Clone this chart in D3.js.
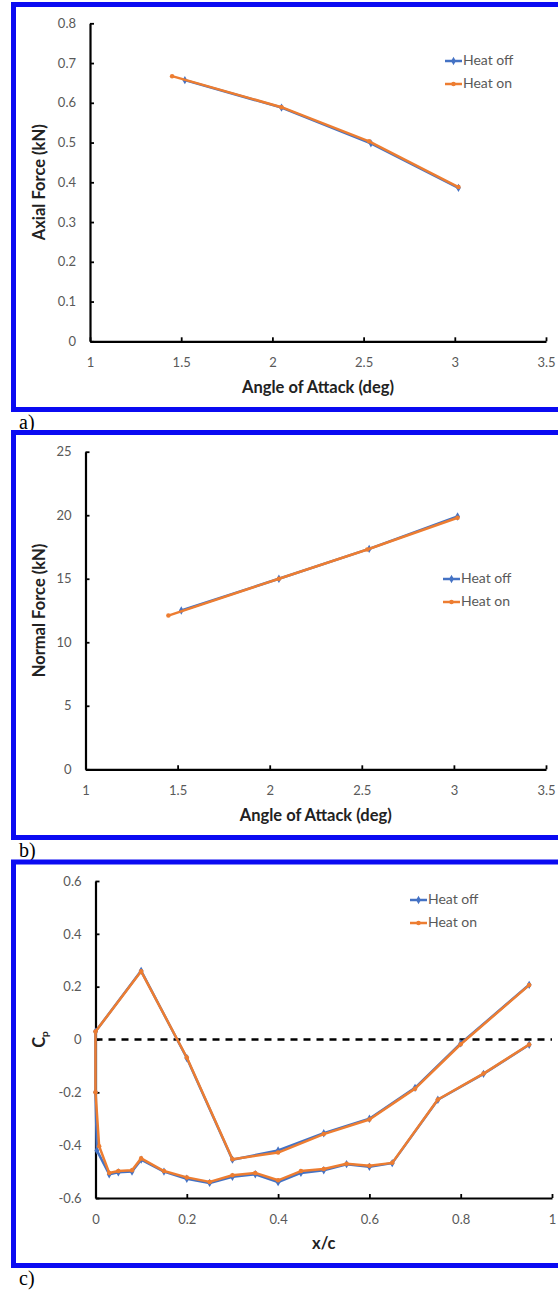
<!DOCTYPE html>
<html>
<head>
<meta charset="utf-8">
<script src="https://cdn.jsdelivr.net/npm/d3@7"></script>
<style>
  body { margin: 0; background: #fff; }
  svg { display: block; }
</style>
</head>
<body>
<div id="chart"></div>
<script>
// a) axial force vs angle of attack
const aoaOff = [1.52, 2.05, 2.54, 3.02];
const aoaOn = [1.45, 2.05, 2.53, 3.02];
const axialOff = [0.657, 0.588, 0.498, 0.386];
const axialOn = [0.667, 0.589, 0.503, 0.388];

// b) normal force vs angle of attack
const normalOff = [12.5, 15.0, 17.35, 19.9];
const normalOn = [12.1, 15.0, 17.3, 19.8];

// c) pressure coefficient, lower surface (TE -> LE) then upper surface (LE -> TE)
const xcOff = [0.95, 0.85, 0.75, 0.65, 0.6, 0.55, 0.5, 0.45, 0.4, 0.35, 0.3, 0.25, 0.2, 0.15, 0.1, 0.08, 0.05, 0.03, 0.003, 0, 0,
  0.1, 0.2, 0.3, 0.4, 0.5, 0.6, 0.7, 0.8, 0.95];
const cpOff = [-0.02, -0.13, -0.228, -0.468, -0.482, -0.472, -0.495, -0.505, -0.54, -0.51, -0.52, -0.543, -0.527, -0.5, -0.455, -0.5, -0.503, -0.51, -0.42, -0.2, 0.03,
  0.26, -0.07, -0.455, -0.42, -0.355, -0.3, -0.183, -0.015, 0.207];
const xcOn = [0.95, 0.85, 0.75, 0.65, 0.6, 0.55, 0.5, 0.45, 0.4, 0.35, 0.3, 0.25, 0.2, 0.15, 0.1, 0.08, 0.05, 0.03, 0.008, 0, 0,
  0.1, 0.2, 0.3, 0.4, 0.5, 0.6, 0.7, 0.8, 0.95];
const cpOn = [-0.019, -0.129, -0.227, -0.467, -0.478, -0.47, -0.49, -0.498, -0.533, -0.505, -0.514, -0.539, -0.522, -0.498, -0.45, -0.495, -0.498, -0.505, -0.404, -0.2, 0.03,
  0.258, -0.068, -0.453, -0.428, -0.358, -0.303, -0.186, -0.018, 0.206];

const seriesNames = ["Heat off", "Heat on"];
const seriesColors = ["#4472c4", "#ed7d31"];

// tick labels
const aoaTicks = [1, 1.5, 2, 2.5, 3, 3.5];
const axialTicks = [0, 0.1, 0.2, 0.3, 0.4, 0.5, 0.6, 0.7, 0.8];
const normalTicks = [0, 5, 10, 15, 20, 25];
const xcTicks = [0, 0.2, 0.4, 0.6, 0.8, 1];
const cpTicks = [-0.6, -0.4, -0.2, 0, 0.2, 0.4, 0.6];

const width = 558, height = 1291;
const sans = "Lato, 'Open Sans', sans-serif";

const svg = d3.select("#chart")
  .append("svg")
  .attr("width", width)
  .attr("height", height);

const zip = (xs, ys) => xs.map((v, i) => ({ x: v, y: ys[i] }));

const panels = [
  {
    label: "a)", top: 4.5, bottom: 409.5, labelY: 429,
    left: 90, right: 546, base: 341.3, ceil: 23.3,
    xTicks: aoaTicks, yTicks: axialTicks,
    xTitle: "Angle of Attack (deg)", yTitle: "Axial Force (kN)",
    legendX: 445, legendY: 61,
    series: [zip(aoaOff, axialOff), zip(aoaOn, axialOn)]
  },
  {
    label: "b)", top: 432.5, bottom: 837.5, labelY: 857,
    left: 85.5, right: 546, base: 769.3, ceil: 451.7,
    xTicks: aoaTicks, yTicks: normalTicks,
    xTitle: "Angle of Attack (deg)", yTitle: "Normal Force (kN)",
    legendX: 443, legendY: 579,
    series: [zip(aoaOff, normalOff), zip(aoaOn, normalOn)]
  },
  {
    label: "c)", top: 862, bottom: 1265.5, labelY: 1285,
    left: 95.5, right: 552, base: 1198, ceil: 881,
    xTicks: xcTicks, yTicks: cpTicks,
    xTitle: "x/c", yTitle: null, zeroLine: true,
    legendX: 410, legendY: 900,
    series: [zip(xcOff, cpOff), zip(xcOn, cpOn)]
  }
];

const marker = [
  d3.symbol().type(d3.symbolDiamond).size(20),
  d3.symbol().type(d3.symbolCircle).size(16)
];

panels.forEach(function (p) {
  const g = svg.append("g");

  // blue frame (right edge runs off the picture)
  g.append("rect")
    .attr("x", 13.5)
    .attr("y", p.top)
    .attr("width", 600)
    .attr("height", p.bottom - p.top)
    .attr("fill", "none")
    .attr("stroke", "#0b0bf2")
    .attr("stroke-width", 5);

  g.append("text")
    .attr("x", 19)
    .attr("y", p.labelY)
    .attr("font-family", "'Liberation Serif', 'Times New Roman', serif")
    .attr("font-size", 20)
    .attr("fill", "#000")
    .text(p.label);

  const x = d3.scaleLinear()
    .domain(d3.extent(p.xTicks))
    .range([p.left, p.right]);
  const y = d3.scaleLinear()
    .domain(d3.extent(p.yTicks))
    .range([p.base, p.ceil]);

  // axes, ticks pointing inwards
  const xAxis = g.append("g")
    .attr("transform", "translate(0," + p.base + ")")
    .call(d3.axisBottom(x).tickValues(p.xTicks).tickFormat(d => String(d))
      .tickSizeInner(-4).tickSizeOuter(0));
  xAxis.selectAll("text").attr("y", 21.5).attr("dy", "0.35em");

  const yAxis = g.append("g")
    .attr("transform", "translate(" + p.left + ",0)")
    .call(d3.axisLeft(y).tickValues(p.yTicks).tickFormat(d => String(d))
      .tickSizeInner(-4).tickSizeOuter(0).tickPadding(14));

  [xAxis, yAxis].forEach(function (a) {
    a.select(".domain").attr("stroke", "#000").attr("stroke-width", 2.2);
    a.selectAll(".tick line").attr("stroke", "#000").attr("stroke-width", 1.8);
    a.selectAll("text")
      .attr("fill", "#595959")
      .attr("font-family", sans)
      .attr("font-size", 13);
  });

  // axis titles
  g.append("text")
    .attr("x", (p.left + p.right) / 2)
    .attr("y", p.base + 47)
    .attr("text-anchor", "middle")
    .attr("dominant-baseline", "middle")
    .attr("font-family", sans)
    .attr("font-weight", "bold")
    .attr("font-size", 16.5)
    .attr("fill", "#222")
    .text(p.xTitle);

  const yt = g.append("text")
    .attr("transform", "translate(41," + (p.base + p.ceil) / 2 + ") rotate(-90)")
    .attr("text-anchor", "middle")
    .attr("dominant-baseline", "middle")
    .attr("font-family", sans)
    .attr("font-weight", "bold")
    .attr("font-size", 16.5)
    .attr("fill", "#222");
  if (p.yTitle) {
    yt.text(p.yTitle);
  } else {
    yt.append("tspan").text("C");
    yt.append("tspan").attr("font-size", 10).attr("dy", 4).text("p");
  }

  if (p.zeroLine) {
    g.append("line")
      .attr("x1", x(0)).attr("x2", x(1))
      .attr("y1", y(0)).attr("y2", y(0))
      .attr("stroke", "#000")
      .attr("stroke-width", 2.5)
      .attr("stroke-dasharray", "7,6");
  }

  const line = d3.line().x(d => x(d.x)).y(d => y(d.y));

  p.series.forEach(function (s, i) {
    g.append("path")
      .datum(s)
      .attr("d", line)
      .attr("fill", "none")
      .attr("stroke", seriesColors[i])
      .attr("stroke-width", 2.5)
      .attr("stroke-linejoin", "round");

    g.selectAll(".m" + i)
      .data(s)
      .enter()
      .append("path")
      .attr("d", marker[i])
      .attr("transform", d => "translate(" + x(d.x) + "," + y(d.y) + ")")
      .attr("fill", seriesColors[i]);
  });

  // legend
  seriesNames.forEach(function (name, i) {
    const ly = p.legendY + i * 23;
    g.append("line")
      .attr("x1", p.legendX).attr("x2", p.legendX + 17)
      .attr("y1", ly).attr("y2", ly)
      .attr("stroke", seriesColors[i])
      .attr("stroke-width", 2.5);
    g.append("path")
      .attr("d", marker[i])
      .attr("transform", "translate(" + (p.legendX + 8.5) + "," + ly + ")")
      .attr("fill", seriesColors[i]);
    g.append("text")
      .attr("x", p.legendX + 18)
      .attr("y", ly)
      .attr("dominant-baseline", "middle")
      .attr("font-family", sans)
      .attr("font-size", 14)
      .attr("fill", "#595959")
      .text(name);
  });
});
</script>
</body>
</html>
